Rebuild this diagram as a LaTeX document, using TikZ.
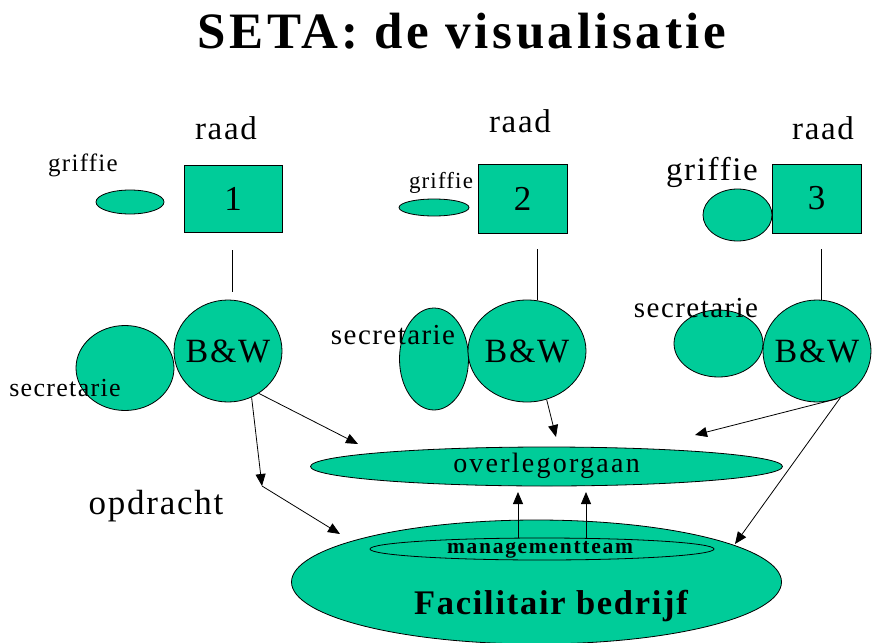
\documentclass[tikz,border=0pt]{standalone}
\usepackage{fontspec}
\setmainfont{Liberation Serif}
\newfontfamily\spaced[LetterSpace=5]{Liberation Serif}
\newfontfamily\wide[LetterSpace=8]{Liberation Serif}
\newfontfamily\titlefont[LetterSpace=7]{Liberation Serif}
\usetikzlibrary{shapes.geometric,arrows.meta}
\definecolor{sea}{RGB}{0,204,153}
\newcommand{\fs}[1]{\fontsize{#1}{#1}\selectfont}
\tikzset{
  shapeline/.style={draw=black, line width=0.8pt, fill=sea},
  oval/.style={shapeline, ellipse, inner sep=0pt},
  raadbox/.style={shapeline, rectangle, inner sep=0pt},
  txt/.style={inner sep=0pt, font=\spaced},
  arr/.style={line width=0.8pt, -{Triangle[length=12pt,width=10pt]}},
  plain/.style={line width=0.8pt},
}
\begin{document}
\begin{tikzpicture}[x=1pt,y=-1pt]
\useasboundingbox (0,0) rectangle (872,642);

% title
\node[inner sep=0pt, font=\titlefont\bfseries\fs{51}] (title) at (462,31) {SETA: de visualisatie};

% raad 1
\node[raadbox, minimum width=98pt, minimum height=67pt] (box1) at (233,198.5) {};
\node[oval, minimum width=68pt, minimum height=24pt] (gr1) at (130,202) {};
\node[oval, minimum width=98pt, minimum height=85pt] (sec1) at (125,368) {};
\node[oval, minimum width=108pt, minimum height=102pt] (bw1) at (228,351) {};

% raad 2
\node[raadbox, minimum width=89pt, minimum height=69pt] (box2) at (522.5,198.5) {};
\node[oval, minimum width=70pt, minimum height=17pt] (gr2) at (434,207.5) {};
\node[oval, minimum width=69pt, minimum height=102pt] (sec2) at (434,359) {};
\node[oval, minimum width=118pt, minimum height=102pt] (bw2) at (527,351) {};

% raad 3
\node[raadbox, minimum width=89pt, minimum height=69pt] (box3) at (816.5,198.5) {};
\node[oval, minimum width=69pt, minimum height=52pt] (gr3) at (737.5,215) {};
\node[oval, minimum width=89pt, minimum height=67pt] (sec3) at (718.5,343.5) {};
\node[oval, minimum width=108pt, minimum height=102pt] (bw3) at (817,351) {};

% bottom part
\node[oval, minimum width=472pt, minimum height=39pt] (overleg) at (546.5,466.5) {};
\node[oval, minimum width=490pt, minimum height=124pt] (fb) at (536.5,582) {};
\node[shapeline, ellipse, fill=none, inner sep=0pt, minimum width=344pt, minimum height=22pt] (mt) at (542,549) {};

% raad -- B&W links
\coordinate (l1a) at (232,250); \coordinate (l1b) at (232,292);
\coordinate (l2a) at (537,249); \coordinate (l2b) at (537,300);
\coordinate (l3a) at (821,249); \coordinate (l3b) at (821,300);
\draw[plain] (l1a) -- (l1b);
\draw[plain] (l2a) -- (l2b);
\draw[plain] (l3a) -- (l3b);

% arrows towards overlegorgaan / facilitair bedrijf
\coordinate (t1) at (358,444);
\coordinate (bend) at (262,486);
\coordinate (t2) at (340,534);
\coordinate (t3) at (556,437);
\coordinate (t4) at (695,435);
\coordinate (t5) at (735,544);
\draw[arr] (bw1.-54) -- (t1);
\draw[arr] (bw1.-63) -- (bend);
\draw[arr] (bend) -- (t2);
\draw[arr] (bw2.-68) -- (t3);
\draw[arr] (bw3.-67) -- (t4);
\draw[arr] (bw3.-63) -- (t5);

% management team reports upward
\coordinate (u1) at (518,492);
\coordinate (u2) at (586,492);
\draw[arr] (mt.north -| u1) -- (u1);
\draw[arr] (mt.north -| u2) -- (u2);

% labels
\node[txt, font=\spaced\fs{33}] (raad1) at (226,128) {raad};
\node[txt, font=\spaced\fs{33}] (raad2) at (520,121) {raad};
\node[txt, font=\spaced\fs{33}] (raad3) at (823,128) {raad};
\node[txt, font=\spaced\fs{35}] (n1) at (box1.center) {1};
\node[txt, font=\spaced\fs{35}] (n2) at (box2.center) {2};
\node[txt, font=\spaced\fs{35}] (n3) at (box3.center) {3};
\node[txt, font=\spaced\fs{25}] (grt1) at (83,165) {griffie};
\node[txt, font=\spaced\fs{23}] (grt2) at (441,183) {griffie};
\node[txt, font=\spaced\fs{33}] (grt3) at (712,172) {griffie};
\node[txt, font=\spaced\fs{26}] (sect1) at (65,388) {secretarie};
\node[txt, font=\spaced\fs{29}] (sect2) at (393,335) {secretarie};
\node[txt, font=\spaced\fs{29}] (sect3) at (696,308) {secretarie};
\node[txt, font=\spaced\fs{34}] (bwt1) at (bw1.center) {B\&W};
\node[txt, font=\spaced\fs{34}] (bwt2) at (bw2.center) {B\&W};
\node[txt, font=\spaced\fs{34}] (bwt3) at (bw3.center) {B\&W};
\node[txt, font=\wide\fs{28}] (ovt) at (546.5,466) {overlegorgaan};
\node[txt, font=\wide\bfseries\fs{21.5}] (mtt) at (540,550) {managementteam};
\node[txt, font=\spaced\bfseries\fs{34.5}] (fbt) at (551,606) {Facilitair bedrijf};
\node[txt, font=\spaced\fs{35}] (opd) at (156,506) {opdracht};
\end{tikzpicture}
\end{document}
